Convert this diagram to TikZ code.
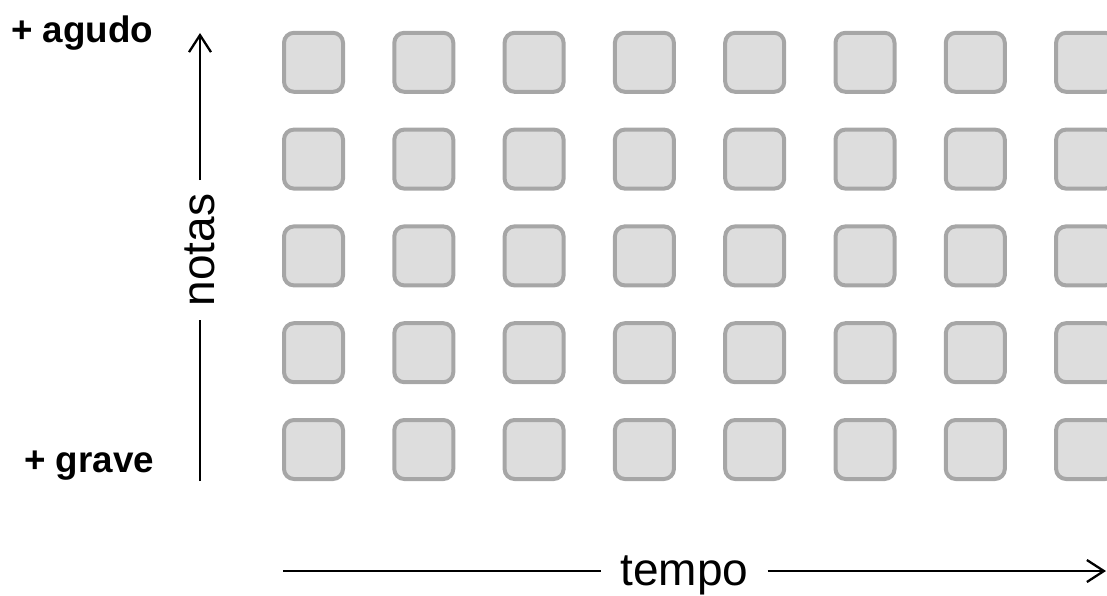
\documentclass[tikz,border=0pt]{standalone}
\usepackage{fontspec}
\setmainfont{Liberation Sans}
\usepackage{tikz}
\usetikzlibrary{arrows.meta,positioning,calc}
\definecolor{cellfill}{HTML}{DDDDDD}
\definecolor{celledge}{HTML}{A6A6A6}

\begin{document}
\begin{tikzpicture}[x=1pt,y=-1pt,
  cell/.style={draw=celledge,fill=cellfill,line width=4pt,rounded corners=10pt,
               minimum width=59pt,minimum height=59pt,inner sep=0pt},
  axisline/.style={line width=2.3pt},
  axislabel/.style={font=\fontsize{46}{50}\selectfont,inner ysep=0pt},
  endlabel/.style={font=\fontsize{36.8}{40}\selectfont\bfseries,inner sep=0pt}]
\useasboundingbox (0,0) rectangle (1107,595);
% grid of note cells (last column runs off the page)
\foreach \c in {0,...,7}{
  \foreach \r in {0,...,4}{
    \node[cell] (cell-\c-\r) at (313.5+\c*110.3,62.3+\r*96.8) {};
  }
}
% pitch axis
\node[endlabel,anchor=base west] (agudo) at (11,42) {+ agudo};
\node[endlabel,anchor=base west] (grave) at (24,472) {+ grave};
\node[axislabel,rotate=90,inner xsep=13.5pt] (notas) at (200,250) {notas};
\coordinate (pitch low) at (200,481);
\coordinate (pitch high) at (200,33);
\draw[axisline] (pitch low) -- (notas.west);
\draw[axisline,-{Straight Barb[length=17pt,width=22pt]}] (notas.east) -- (pitch high);
% time axis
\node[axislabel,inner xsep=19pt,text height=37pt,text depth=9pt] (tempo) at (684.5,571) {tempo};
\coordinate (time start) at (283,571);
\coordinate (time end) at (1106,571);
\draw[axisline] (time start) -- (tempo.west);
\draw[axisline,-{Straight Barb[length=17pt,width=22pt]}] (tempo.east) -- (time end);
\end{tikzpicture}
\end{document}
